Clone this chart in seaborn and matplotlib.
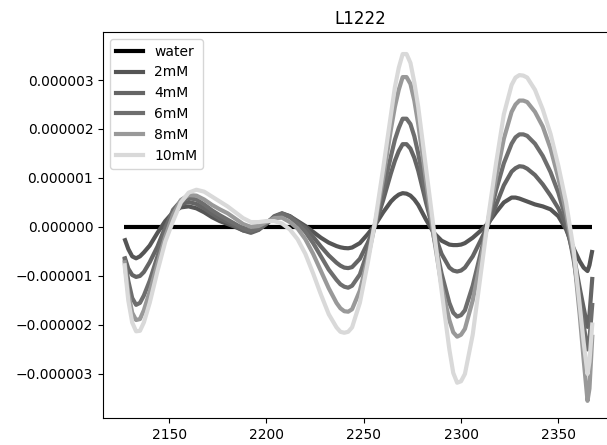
import matplotlib
matplotlib.use("Agg")
import matplotlib.pyplot as plt
from matplotlib.lines import Line2D
from matplotlib import ticker
import pandas as pd
import seaborn as sns

# wavenumber sampling (cm^-1)
wavenumber = [2127, 2129, 2131, 2133, 2135, 2137, 2140, 2144, 2148, 2152, 2156, 2160,
              2164, 2168, 2172, 2176, 2180, 2184, 2188, 2192, 2196, 2200, 2204, 2208,
              2212, 2216, 2220, 2224, 2228, 2232, 2236, 2238, 2240, 2242, 2244, 2248, 2252, 2256,
              2260, 2264, 2266, 2268, 2270, 2272, 2274, 2276, 2278, 2282, 2286, 2290, 2294, 2296, 2298, 2300, 2302,
              2306, 2310, 2314, 2318, 2322, 2326, 2328, 2330, 2332, 2334, 2338, 2342, 2346, 2350,
              2354, 2358, 2361, 2363, 2365, 2366, 2367.5]

# values in units of 1e-6
water = [0.0] * len(wavenumber)

mM2 = [-0.23, -0.45, -0.60, -0.64, -0.60, -0.52, -0.38, -0.12, 0.12, 0.30, 0.40, 0.42,
       0.38, 0.30, 0.20, 0.12, 0.06, 0.00, -0.07, -0.10, -0.05, 0.06, 0.20, 0.27,
       0.22, 0.12, 0.02, -0.10, -0.22, -0.32, -0.39, -0.415, -0.43, -0.435, -0.42, -0.33, -0.15, 0.05,
       0.30, 0.52, 0.60, 0.66, 0.69, 0.68, 0.64, 0.56, 0.45, 0.15, -0.12, -0.28, -0.36, -0.37, -0.37, -0.36, -0.33,
       -0.22, -0.08, 0.08, 0.30, 0.50, 0.60, 0.60, 0.58, 0.55, 0.52, 0.46, 0.42, 0.36, 0.22,
       -0.05, -0.45, -0.70, -0.83, -0.90, -0.78, -0.47]

mM4 = [-0.60, -0.85, -0.98, -1.02, -1.00, -0.92, -0.72, -0.40, 0.00, 0.30, 0.46, 0.51,
       0.47, 0.38, 0.27, 0.17, 0.10, 0.02, -0.07, -0.12, -0.06, 0.07, 0.22, 0.28,
       0.22, 0.10, -0.02, -0.20, -0.40, -0.58, -0.73, -0.79, -0.83, -0.84, -0.82, -0.65, -0.33, 0.05,
       0.55, 1.10, 1.35, 1.55, 1.69, 1.69, 1.60, 1.41, 1.15, 0.50, -0.10, -0.55, -0.83, -0.89, -0.91, -0.89, -0.83,
       -0.60, -0.28, 0.05, 0.45, 0.85, 1.13, 1.20, 1.24, 1.23, 1.19, 1.06, 0.87, 0.64, 0.38,
       0.02, -0.60, -1.25, -1.65, -2.04, -1.80, -1.02]

mM6 = [-0.62, -1.10, -1.45, -1.59, -1.55, -1.40, -1.10, -0.60, -0.05, 0.35, 0.53, 0.59,
       0.56, 0.46, 0.34, 0.24, 0.15, 0.06, -0.03, -0.08, -0.03, 0.08, 0.20, 0.27,
       0.20, 0.07, -0.10, -0.33, -0.60, -0.87, -1.08, -1.17, -1.22, -1.24, -1.20, -0.97, -0.50, 0.08,
       0.75, 1.45, 1.78, 2.02, 2.21, 2.21, 2.10, 1.85, 1.50, 0.65, -0.20, -0.95, -1.55, -1.75, -1.83, -1.80, -1.70,
       -1.20, -0.55, 0.10, 0.75, 1.30, 1.70, 1.83, 1.89, 1.89, 1.86, 1.70, 1.45, 1.12, 0.70,
       0.15, -0.70, -1.50, -2.00, -2.50, -2.30, -1.55]

mM8 = [-0.68, -1.35, -1.75, -1.90, -1.88, -1.70, -1.32, -0.75, -0.20, 0.25, 0.55, 0.65,
       0.64, 0.56, 0.45, 0.36, 0.28, 0.17, 0.06, 0.00, 0.02, 0.10, 0.18, 0.19,
       0.10, -0.03, -0.25, -0.55, -0.90, -1.25, -1.55, -1.66, -1.72, -1.73, -1.68, -1.30, -0.65, 0.10,
       1.00, 2.00, 2.45, 2.80, 3.06, 3.06, 2.92, 2.58, 2.10, 0.95, -0.20, -1.20, -1.90, -2.15, -2.24, -2.20, -2.08,
       -1.50, -0.70, 0.15, 1.00, 1.80, 2.35, 2.50, 2.58, 2.58, 2.55, 2.35, 2.05, 1.60, 1.00,
       0.30, -0.60, -1.80, -2.70, -3.55, -3.30, -2.20]

mM10 = [-0.74, -1.50, -1.95, -2.13, -2.12, -1.95, -1.55, -0.90, -0.30, 0.12, 0.50, 0.70,
        0.76, 0.72, 0.62, 0.52, 0.42, 0.30, 0.18, 0.10, 0.10, 0.12, 0.12, 0.07,
        -0.05, -0.25, -0.55, -0.95, -1.38, -1.78, -2.05, -2.14, -2.16, -2.14, -2.05, -1.55, -0.75, 0.15,
        1.20, 2.30, 2.85, 3.25, 3.53, 3.53, 3.35, 2.95, 2.45, 1.20, -0.05, -1.30, -2.50, -2.98, -3.18, -3.15, -3.00,
        -2.20, -1.00, 0.20, 1.30, 2.30, 2.90, 3.05, 3.10, 3.09, 3.05, 2.80, 2.40, 1.90, 1.25,
        0.50, -0.50, -1.60, -2.35, -3.00, -2.75, -1.95]

series_names = ["water", "2mM", "4mM", "6mM", "8mM", "10mM"]
series_values = [water, mM2, mM4, mM6, mM8, mM10]
colors = ["#000000", "#555555", "#656565", "#6e6e6e", "#999999", "#d9d9d9"]

rows = []
for name, vals in zip(series_names, series_values):
    for xv, yv in zip(wavenumber, vals):
        rows.append({"wavenumber": xv, "signal": yv * 1e-6, "sample": name})
df = pd.DataFrame(rows)

W, H = 607, 445
fig = plt.figure(figsize=(W / 100, H / 100), dpi=100)
ax = fig.add_axes([103 / W, 27 / H, 513.7 / W, 386 / H])

palette = dict(zip(series_names, colors))
sns.lineplot(data=df, x="wavenumber", y="signal", hue="sample",
             hue_order=series_names, palette=palette, linewidth=3,
             estimator=None, sort=False, legend=False, ax=ax)
for ln in ax.get_lines():
    ln.set_solid_joinstyle("round")
    ln.set_solid_capstyle("butt")

ax.set_xlim(2116, 2380)
ax.set_ylim(-3.90e-6, 3.98e-6)
ax.xaxis.set_major_locator(ticker.MultipleLocator(50))
ax.yaxis.set_major_locator(ticker.MultipleLocator(1e-6))


def fmt(v, pos):
    s = f"{round(v * 1e6) / 1e6:.6f}"
    if s.startswith("-") and float(s) == 0:
        s = s[1:]
    return s.replace("-", "\u2212")


ax.yaxis.set_major_formatter(ticker.FuncFormatter(fmt))
ax.set_xlabel("")
ax.set_ylabel("")
ax.set_title("L1222")

handles = [Line2D([], [], color=c, linewidth=3) for c in colors]
ax.legend(handles, series_names, loc="upper left")

fig.savefig("out.png", dpi=100)
